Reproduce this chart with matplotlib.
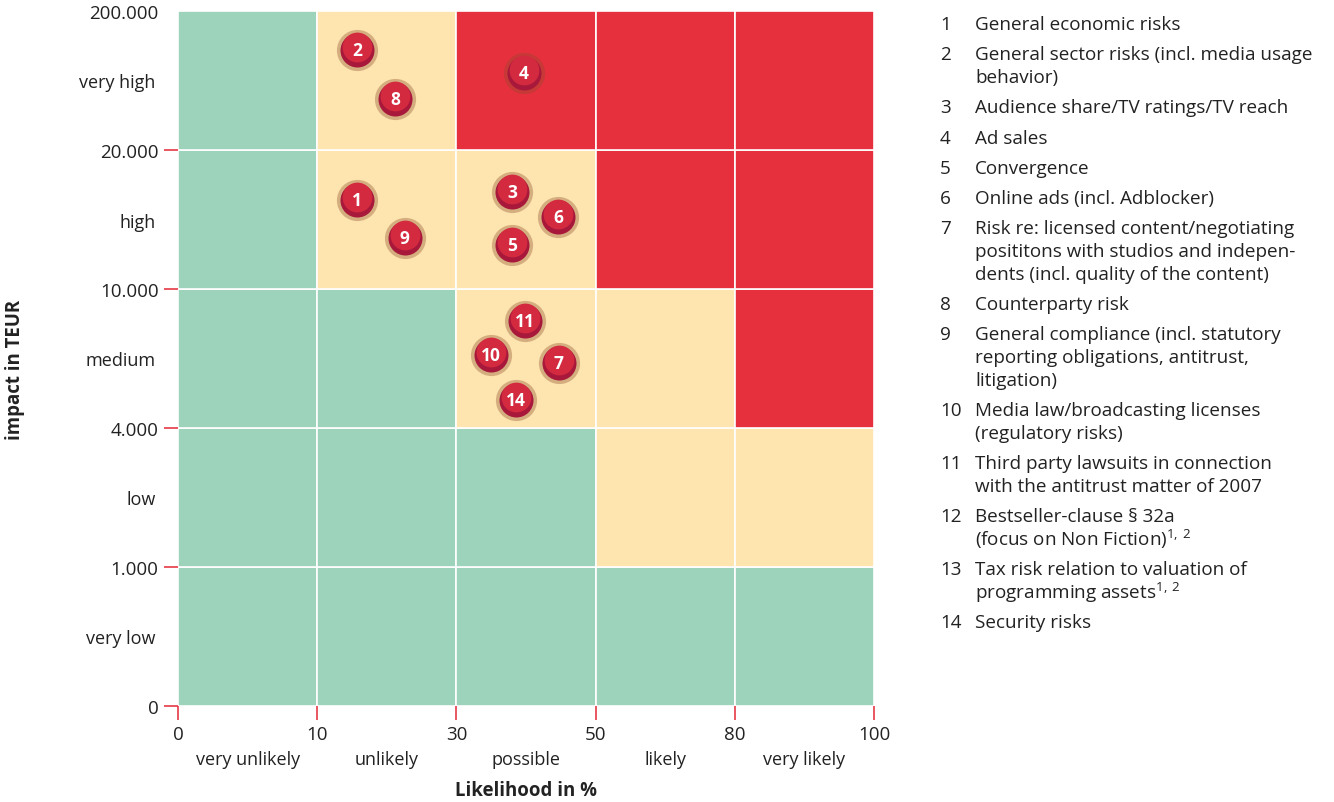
import numpy as np
import matplotlib.pyplot as plt

plt.rcParams['font.family'] = ['Open Sans', 'DejaVu Sans']
plt.rcParams['mathtext.default'] = 'regular'

# band boundaries
x_bounds = [0, 10, 30, 50, 80, 100]
y_bounds = [0, 1000, 4000, 10000, 20000, 200000]
x_bound_labels = ['0', '10', '30', '50', '80', '100']
y_bound_labels = ['0', '1.000', '4.000', '10.000', '20.000', '200.000']
x_bands = ['very unlikely', 'unlikely', 'possible', 'likely', 'very likely']
y_bands = ['very low', 'low', 'medium', 'high', 'very high']

# risk level of every cell, rows from very low to very high (0 green, 1 yellow, 2 red)
levels = [
    [0, 0, 0, 0, 0],
    [0, 0, 0, 1, 1],
    [0, 0, 1, 1, 2],
    [0, 1, 1, 2, 2],
    [0, 1, 2, 2, 2],
]
level_colors = ['#9dd3bb', '#fee5af', '#e6303e']

# risks: id, likelihood in %, impact in TEUR
risk_ids = [1, 2, 3, 4, 5, 6, 7, 8, 9, 10, 11, 14]
likelihood = [15.7, 15.7, 38, 39.7, 38, 44.6, 44.7, 21.2, 22.6, 35, 39.9, 38.6]
impact = [16400, 149600, 17000, 119700, 13200, 15200, 6800, 86000, 13700, 7150, 8620, 5200]

legend_items = [
    ('1', 'General economic risks'),
    ('2', 'General sector risks (incl. media usage\nbehavior)'),
    ('3', 'Audience share/TV ratings/TV reach'),
    ('4', 'Ad sales'),
    ('5', 'Convergence'),
    ('6', 'Online ads (incl. Adblocker)'),
    ('7', 'Risk re: licensed content/negotiating\nposititons with studios and indepen-\ndents (incl. quality of the content)'),
    ('8', 'Counterparty risk'),
    ('9', 'General compliance (incl. statutory\nreporting obligations, antitrust,\nlitigation)'),
    ('10', 'Media law/broadcasting licenses\n(regulatory risks)'),
    ('11', 'Third party lawsuits in connection\nwith the antitrust matter of 2007'),
    ('12', 'Bestseller-clause § 32a\n(focus on Non Fiction)$^{1,\\,2}$'),
    ('13', 'Tax risk relation to valuation of\nprogramming assets$^{1,\\,2}$'),
    ('14', 'Security risks'),
]

text_col = '#222222'
tick_red = '#e63946'

fig = plt.figure(figsize=(13.34, 8.03), dpi=100)
ax = fig.add_axes([178 / 1334, 96 / 803, 696 / 1334, 695 / 803])

for r in range(5):
    for c in range(5):
        ax.add_patch(plt.Rectangle((c, r), 1, 1, facecolor=level_colors[levels[r][c]],
                                   edgecolor='white', linewidth=1.2))
ax.set_xlim(0, 5)
ax.set_ylim(0, 5)

# map values onto the band scale
bx = np.interp(likelihood, x_bounds, np.arange(6))
by = np.interp(impact, y_bounds, np.arange(6))
# soft shadow halo, then the ball with a lighter top
ax.scatter(bx, by, s=880, color='#8b4a2a', alpha=0.35, zorder=3, linewidths=0)
ax.scatter(bx, by, s=600, color='#a8183a', zorder=4, linewidths=0)
ax.scatter(bx, by + 0.02, s=460, color='#d42a40', zorder=4, linewidths=0)
for i, x, y in zip(risk_ids, bx, by):
    ax.text(x, y, str(i), color='white', fontsize=12.5, fontweight='bold',
            ha='center', va='center', zorder=5)

for s in ax.spines.values():
    s.set_visible(False)

ax.set_xticks(np.arange(6))
ax.set_xticklabels(x_bound_labels, fontsize=13.5, color=text_col)
ax.set_yticks(np.arange(6))
ax.set_yticklabels(y_bound_labels, fontsize=13.5, color=text_col)
ax.tick_params(axis='both', which='major', length=10, width=1.2, color=tick_red, pad=4)
ax.yaxis.get_major_ticks()[-1].tick1line.set_visible(False)

ax.set_xticks(np.arange(5) + 0.5, minor=True)
ax.set_xticklabels(x_bands, minor=True, fontsize=13, color=text_col)
ax.set_yticks(np.arange(5) + 0.5, minor=True)
ax.set_yticklabels(y_bands, minor=True, fontsize=13, color=text_col)
ax.tick_params(axis='x', which='minor', length=0, pad=32)
ax.tick_params(axis='y', which='minor', length=0, pad=16)

fig.text(526 / 1334, 12 / 803, 'Likelihood in %', ha='center', va='center',
         fontsize=13.4, fontweight='bold', color=text_col)
fig.text(15 / 1334, 1 - 370 / 803, 'impact in TEUR', ha='center', va='center',
         rotation=90, fontsize=13.4, fontweight='bold', color=text_col)

y = 25
for num, label in legend_items:
    fig.text(940 / 1334, 1 - y / 803, num, ha='left', va='center',
             fontsize=13.6, color=text_col)
    lines = label.split('\n')
    for k, line in enumerate(lines):
        fig.text(975 / 1334, 1 - (y + k * 22.7) / 803, line, ha='left', va='center',
                 fontsize=13.6, color=text_col)
    y += len(lines) * 22.7 + 7.6

fig.savefig('out.png', dpi=100)
